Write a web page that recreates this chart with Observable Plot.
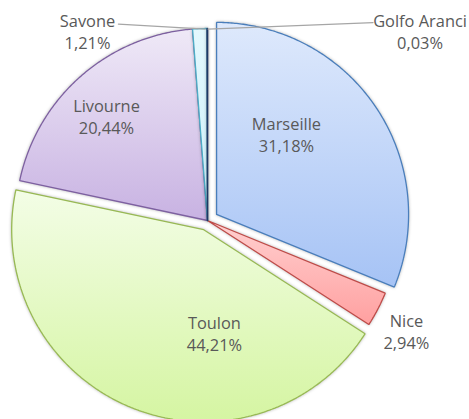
<!DOCTYPE html>
<html><head><meta charset="utf-8">
<script src="https://cdn.jsdelivr.net/npm/d3@7"></script>
<script src="https://cdn.jsdelivr.net/npm/@observablehq/plot@0.6"></script>
<style>
html,body{margin:0;padding:0;background:#fff;}
#chart svg{display:block;background:#fff;}
#chart g.slice path{filter:drop-shadow(0px 0px 1.6px rgba(0,0,0,0.28));}
</style></head><body><div id="chart"></div>
<script>
// ---- data ----
const ports = ["Marseille", "Nice", "Toulon", "Livourne", "Savone", "Golfo Aranci"];
const shares = [31.18, 2.94, 44.21, 20.44, 1.21, 0.03];

// ---- layout / style (not data) ----
const explode = [0.057, 0, 0.052, 0, 0, 0];            // radial offset, in radius units
const labelPos = [[0.411, 0.45], [1.036, -0.576], [0.036, -0.586],
                  [-0.526, 0.544], [-0.625, 0.986], [1.107, 0.986]];
const leaderFrom = [null, null, null, null, [-0.464, 1.023], [0.862, 1.031]];
const leaderTo   = [null, null, null, null, [-0.012, 0.997], [0.003, 0.997]];
const fillTop    = ["#dee9fc", "#ffd0d0", "#f3fde6", "#efe9f7", "#e3f8fd", "#1f3864"];
const fillBottom = ["#a6c3f5", "#ffa0a0", "#d5f5a2", "#c8b2e2", "#cdf0fa", "#1f3864"];
const strokes    = ["#4a7ebb", "#be4b48", "#98b954", "#7d60a0", "#4bacc6", "#1f3864"];

const total = d3.sum(shares);
const toRad = Math.PI / 180;

// build slice polygons in data units (radius = 1, centre = 0,0, y up)
const slices = [];
let acc = 0;
ports.forEach((name, i) => {
  const a0 = acc / total * 360, a1 = (acc + shares[i]) / total * 360;
  acc += shares[i];
  const mid = (a0 + a1) / 2 * toRad;
  const ox = explode[i] * Math.sin(mid), oy = explode[i] * Math.cos(mid);
  const pts = [{name, x: ox, y: oy}];
  const n = Math.max(2, Math.ceil((a1 - a0) / 0.5));
  for (let k = 0; k <= n; k++) {
    const a = (a0 + (a1 - a0) * k / n) * toRad;
    pts.push({name, x: ox + Math.sin(a), y: oy + Math.cos(a)});
  }
  pts.push({name, x: ox, y: oy});
  slices.push(pts);
});

const labels = ports.map((name, i) => ({
  x: labelPos[i][0], y: labelPos[i][1],
  text: name + "\n" + shares[i].toFixed(2).replace(".", ",") + "%"
}));

const leaders = [];
ports.forEach((name, i) => {
  if (leaderFrom[i]) {
    leaders.push({name, x: leaderFrom[i][0], y: leaderFrom[i][1]});
    leaders.push({name, x: leaderTo[i][0], y: leaderTo[i][1]});
  }
});

const cx = 207, cy = 220, r = 192;

const plot = Plot.plot({
  width: 469,
  height: 419,
  margin: 0,
  style: {fontFamily: "'Open Sans', sans-serif", background: "#fff"},
  x: {domain: [-1, 1], range: [cx - r, cx + r], axis: null},
  y: {domain: [-1, 1], range: [cy + r, cy - r], axis: null},
  marks: [
    ...slices.map((pts, i) => Plot.line(pts, {
      x: "x", y: "y",
      fill: `url(#grad${i})`,
      stroke: strokes[i],
      strokeWidth: i === 5 ? 1.6 : 1.3,
      strokeLinejoin: "miter",
      curve: "linear"
    })),
    Plot.line(leaders, {x: "x", y: "y", z: "name", stroke: "#a6a6a6", strokeWidth: 1.3}),
    Plot.text(labels, {
      x: "x", y: "y", text: "text",
      fontSize: 16.4, lineHeight: 1.32,
      fill: "#595959", fontFamily: "'Open Sans', sans-serif"
    })
  ]
});

// gradients
const defs = ports.map((p, i) =>
  `<linearGradient id="grad${i}" x1="0" y1="0" x2="0" y2="1">` +
  `<stop offset="0" stop-color="${fillTop[i]}"/><stop offset="1" stop-color="${fillBottom[i]}"/></linearGradient>`
).join("");
plot.insertAdjacentHTML("afterbegin", `<defs>${defs}</defs>`);
plot.querySelectorAll('g[aria-label="line"]').forEach((g, i) => {
  if (i < slices.length) g.classList.add("slice");
});

document.getElementById("chart").appendChild(plot);
</script>
</body></html>
